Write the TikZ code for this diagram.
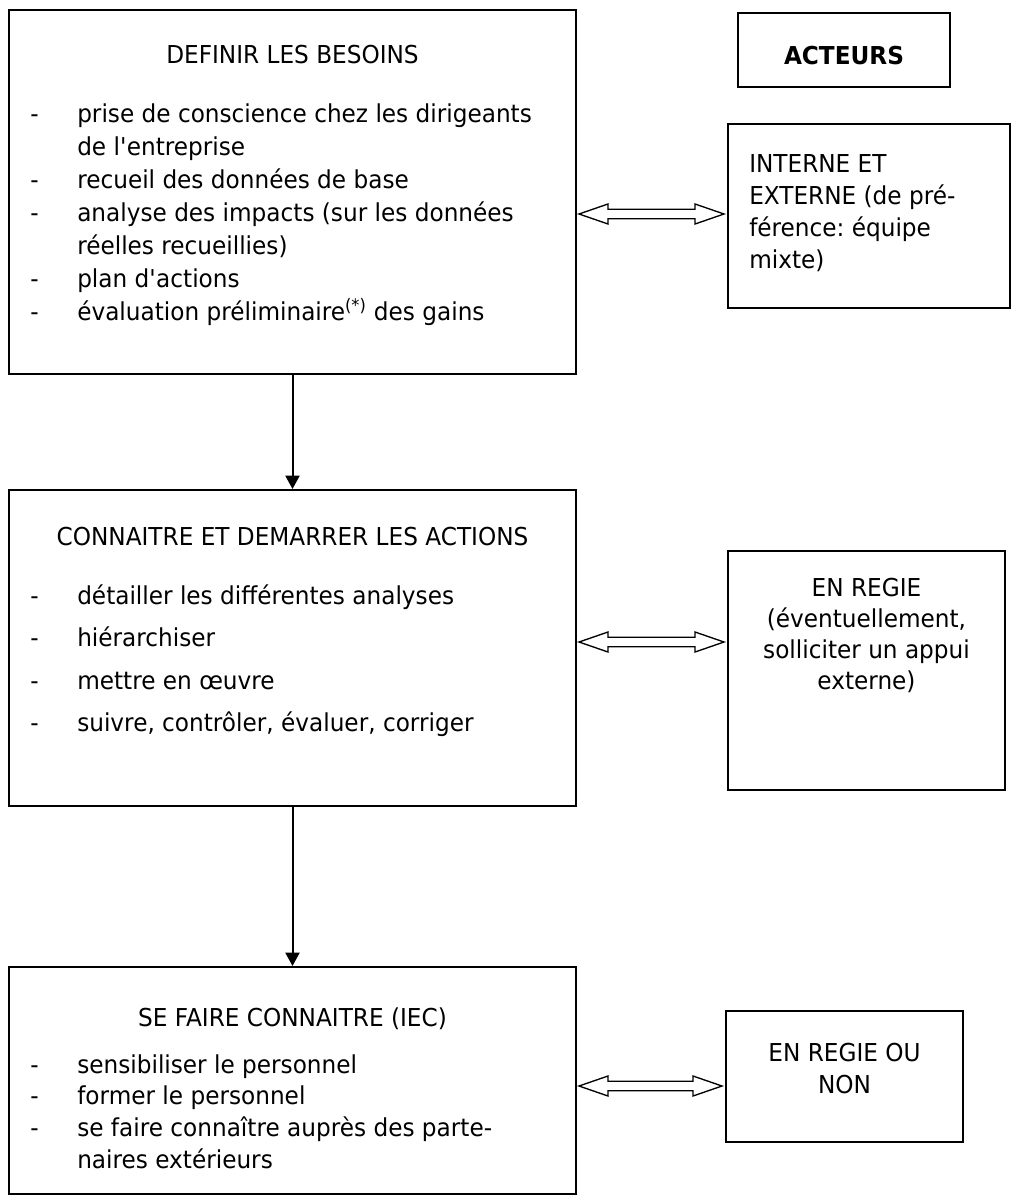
\documentclass[tikz,border=0pt]{standalone}
\usepackage{fontspec}
\setmainfont{DejaVu Sans}[FakeStretch=0.94]
\usetikzlibrary{arrows.meta,calc}
\newdimen\px \px=0.75pt
\newcommand\mydblarrow[2]{\draw[dblarr] (#1) -- ++(29,-10) -- ++(0,5.3) -- ($(#2)+(-29,-4.7)$) -- ++(0,-5.3) -- (#2) -- ++(-29,10) -- ++(0,-5.3) -- ($(#1)+(29,4.7)$) -- ++(0,5.3) -- cycle;}
\tikzset{
  boxn/.style={draw, line width=1.5pt, rectangle, inner sep=0pt},
  txt/.style={inner sep=0pt, anchor=base west},
  ttl/.style={inner sep=0pt, anchor=base},
  dblarr/.style={draw, line width=1pt, line join=miter},
  downarr/.style={line width=1.5pt, -{Triangle[length=10pt,width=10.5pt]}}
}
\frenchspacing
\begin{document}
\begin{tikzpicture}[x=0.75pt, y=-0.75pt, font=\fontsize{18.5}{24}\selectfont]
\useasboundingbox (0,0) rectangle (1011,1196);

% left boxes
\node[boxn, minimum width=567\px, minimum height=364\px] (b1) at (292.5,192) {};
\node[boxn, minimum width=567\px, minimum height=316\px] (b2) at (292.5,648) {};
\node[boxn, minimum width=567\px, minimum height=227\px] (b3) at (292.5,1080.5) {};

% right boxes
\node[boxn, minimum width=212\px, minimum height=74\px] (act) at (844,50) {};
\node[boxn, minimum width=282\px, minimum height=184\px] (r1) at (869,216) {};
\node[boxn, minimum width=277\px, minimum height=239\px] (r2) at (866.5,670.5) {};
\node[boxn, minimum width=237\px, minimum height=131\px] (r3) at (844.5,1076.5) {};

% down arrows
\draw[downarr] (b1.south) -- (b2.north);
\draw[downarr] (b2.south) -- (b3.north);

% double arrows
\path (b1.east |- 0,214) ++(2,0) coordinate (a1l);
\path (r1.west |- 0,214) ++(-3,0) coordinate (a1r);
\path (b2.east |- 0,642) ++(2,0) coordinate (a2l);
\path (r2.west |- 0,642) ++(-3,0) coordinate (a2r);
\path (b3.east |- 0,1086) ++(2,0) coordinate (a3l);
\path (r3.west |- 0,1086) ++(-3,0) coordinate (a3r);
\mydblarrow{a1l}{a1r}
\mydblarrow{a2l}{a2r}
\mydblarrow{a3l}{a3r}

% box 1 text
\node[ttl] (t1) at (292.5,63) {DEFINIR LES BESOINS};
\node[txt] (d1a) at (30,122) {-};
\node[txt] (l1a) at (77,122) {prise de conscience chez les dirigeants};
\node[txt] (l1b) at (77,155) {de l\textquotesingle entreprise};
\node[txt] (d1c) at (30,188) {-};
\node[txt] (l1c) at (77,188) {recueil des données de base};
\node[txt] (d1d) at (30,221) {-};
\node[txt] (l1d) at (77,221) {analyse des impacts (sur les données};
\node[txt] (l1e) at (77,254) {réelles recueillies)};
\node[txt] (d1f) at (30,287) {-};
\node[txt] (l1f) at (77,287) {plan d\textquotesingle actions};
\node[txt] (d1g) at (30,320) {-};
\node[txt] (l1g) at (77,320) {évaluation préliminaire\textsuperscript{(*)} des gains};

% box 2 text
\node[ttl] (t2) at (292.5,545) {CONNAITRE ET DEMARRER LES ACTIONS};
\node[txt] (d2a) at (30,604) {-};
\node[txt] (l2a) at (77,604) {détailler les différentes analyses};
\node[txt] (d2b) at (30,646) {-};
\node[txt] (l2b) at (77,646) {hiérarchiser};
\node[txt] (d2c) at (30,689) {-};
\node[txt] (l2c) at (77,689) {mettre en œuvre};
\node[txt] (d2d) at (30,731) {-};
\node[txt] (l2d) at (77,731) {suivre, contrôler, évaluer, corriger};

% box 3 text
\node[ttl] (t3) at (292.5,1026) {SE FAIRE CONNAITRE (IEC)};
\node[txt] (d3a) at (30,1073) {-};
\node[txt] (l3a) at (77,1073) {sensibiliser le personnel};
\node[txt] (d3b) at (30,1104) {-};
\node[txt] (l3b) at (77,1104) {former le personnel};
\node[txt] (d3c) at (30,1136) {-};
\node[txt] (l3c) at (77,1136) {se faire connaître auprès des parte-};
\node[txt] (l3d) at (77,1168) {naires extérieurs};

% right texts
\node[ttl, font=\fontsize{18.5}{24}\selectfont\bfseries] (tact) at (844,64) {ACTEURS};
\node[txt] (r1a) at (749,172) {INTERNE ET};
\node[txt] (r1b) at (749,204) {EXTERNE (de pré-};
\node[txt] (r1c) at (749,236) {férence: équipe};
\node[txt] (r1d) at (749,268) {mixte)};
\node[ttl] (r2a) at (866.5,596) {EN REGIE};
\node[ttl] (r2b) at (866.5,627) {(éventuellement,};
\node[ttl] (r2c) at (866.5,658) {solliciter un appui};
\node[ttl] (r2d) at (866.5,689) {externe)};
\node[ttl] (r3a) at (844.5,1061) {EN REGIE OU};
\node[ttl] (r3b) at (844.5,1093) {NON};
\end{tikzpicture}
\end{document}
